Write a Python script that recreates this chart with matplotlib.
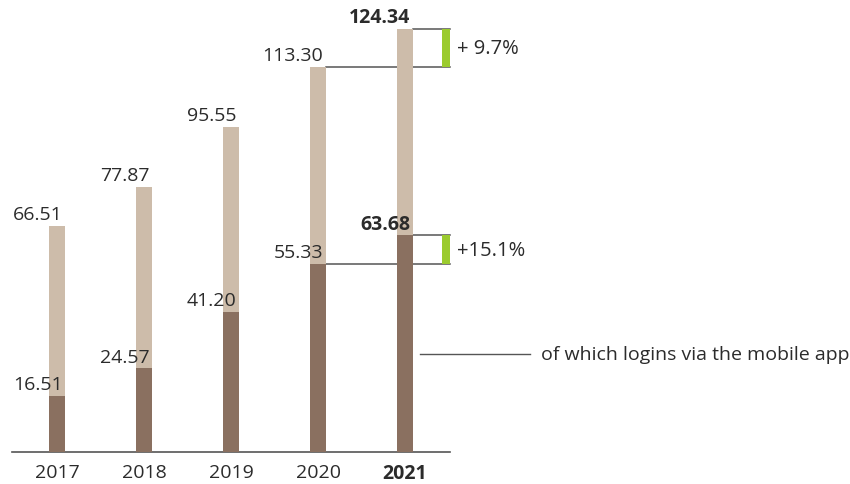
import numpy as np
import matplotlib
matplotlib.use("Agg")
import matplotlib.pyplot as plt

plt.rcParams["font.family"] = ["Open Sans", "DejaVu Sans"]

# data: logins in millions
years = ["2017", "2018", "2019", "2020", "2021"]
total_logins = [66.51, 77.87, 95.55, 113.30, 124.34]
mobile_logins = [16.51, 24.57, 41.20, 55.33, 63.68]

light = "#CDBCAA"
dark = "#8A7060"
green = "#9BCB2E"
text_col = "#2b2b2b"
line_col = "#555555"

fig = plt.figure(figsize=(8.5, 4.85), dpi=100)
# axes placed so the baseline sits near the bottom and bars start at the left
ax = fig.add_axes([12 / 850, 32 / 485, 438 / 850, 453 / 485])
ax.set_xlim(-0.517, 4.517)
ax.set_ylim(0, 133.2)

x = np.arange(len(years))
w = 0.184
ax.bar(x, total_logins, width=w, color=light, zorder=2)
ax.bar(x, mobile_logins, width=w, color=dark, zorder=3)

# value labels, right aligned to the bar edge
for i, (t, m) in enumerate(zip(total_logins, mobile_logins)):
    bold = "bold" if i == len(years) - 1 else "normal"
    ax.text(x[i] + w / 2 - 0.03, t + 2.0, f"{t:.2f}", ha="right", va="baseline",
            fontsize=14, color=text_col, fontweight=bold)
    ax.text(x[i] + w / 2 - 0.03, m + 2.0, f"{m:.2f}", ha="right", va="baseline",
            fontsize=14, color=text_col, fontweight=bold, zorder=4)

# growth brackets between last two years
x_end = 4.517
gx = 4.471
for prev, cur in [(total_logins[-2], total_logins[-1]),
                  (mobile_logins[-2], mobile_logins[-1])]:
    ax.plot([x[-2] + w / 2, x_end], [prev, prev], color=line_col, lw=1.1,
            zorder=1, clip_on=False)
    ax.plot([x[-1] + w / 2, x_end], [cur, cur], color=line_col, lw=1.1,
            zorder=1, clip_on=False)
    ax.bar(gx, cur - prev, bottom=prev, width=0.092, color=green, zorder=3,
           clip_on=False)
    pct = (cur / prev - 1) * 100
    ax.text(x_end + 0.08, (prev + cur) / 2, f"+{pct:4.1f}%", ha="left",
            va="center", fontsize=14.5, color=text_col, clip_on=False)

# legend-style note for the dark segment
ax.plot([4.17, 5.44], [28.8, 28.8], color=line_col, lw=1.0, clip_on=False)
ax.text(5.56, 28.8, "of which logins via the mobile app", ha="left",
        va="center", fontsize=14, color=text_col, clip_on=False)

# axes styling
for s in ["top", "right", "left"]:
    ax.spines[s].set_visible(False)
ax.spines["bottom"].set_color(line_col)
ax.spines["bottom"].set_linewidth(1.2)
ax.set_yticks([])
ax.set_xticks(x)
ax.set_xticklabels(years, fontsize=14, color=text_col)
ax.get_xticklabels()[-1].set_fontweight("bold")
ax.tick_params(axis="x", length=0, pad=8)

# heading, mostly above the visible area
fig.text(35 / 850, 1.0 + 6 / 485, "Banking logins", ha="left", va="baseline",
         fontsize=15, fontweight="bold", color=text_col)

fig.savefig("out.png", dpi=100)
